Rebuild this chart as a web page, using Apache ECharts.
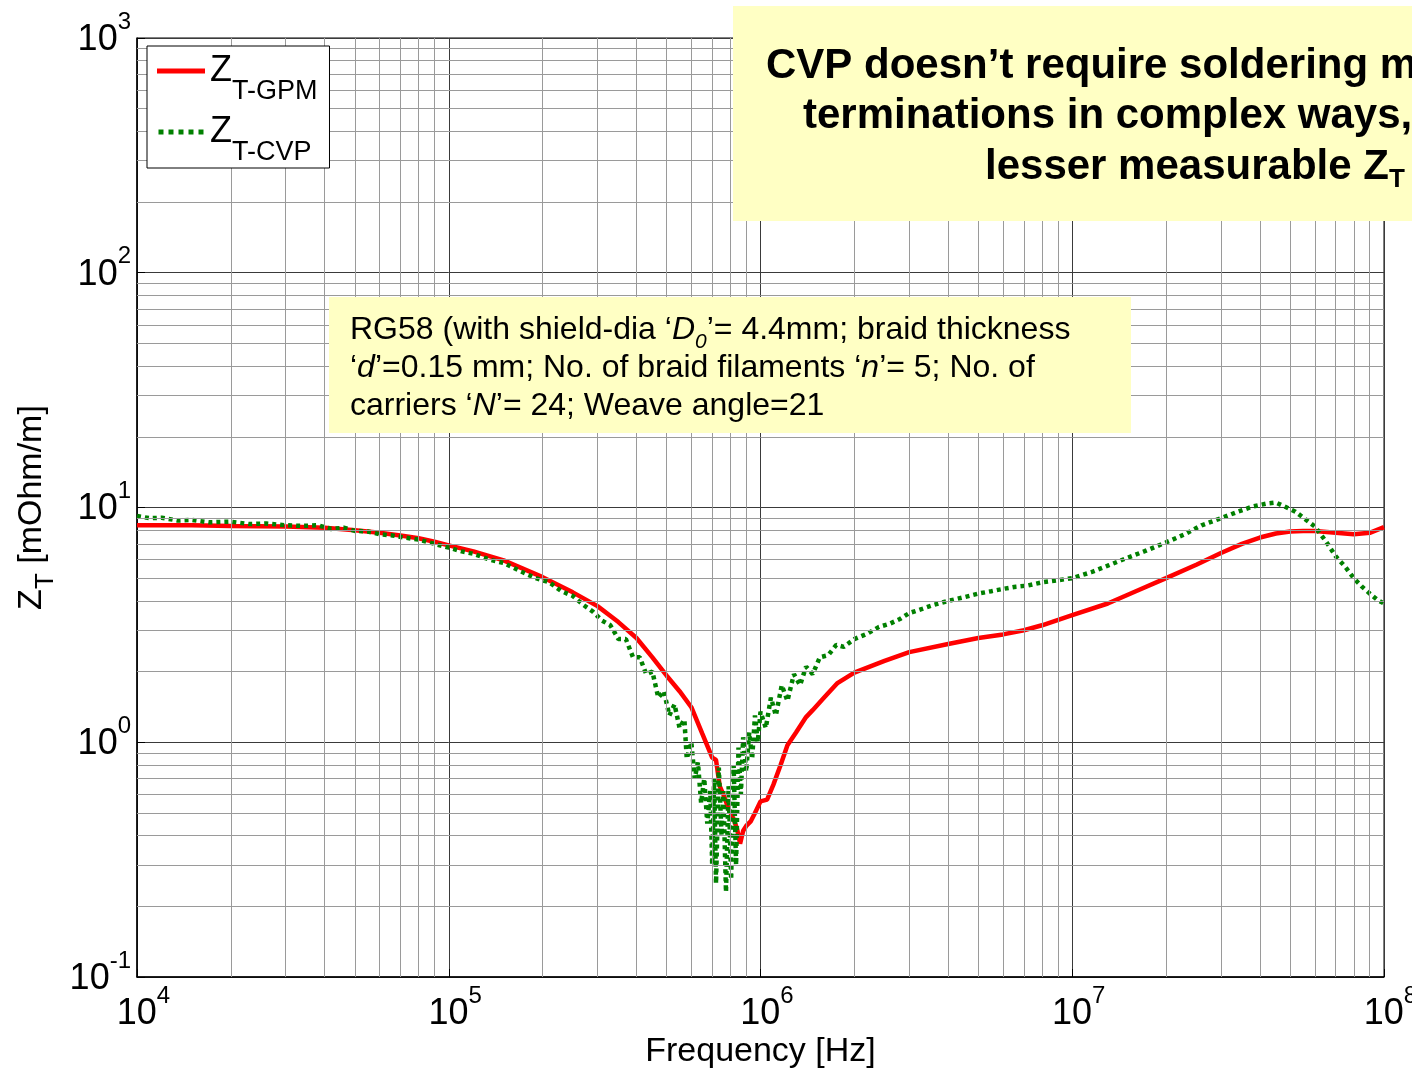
<!DOCTYPE html>
<html><head><meta charset="utf-8">
<script src="https://cdn.jsdelivr.net/npm/echarts@6/dist/echarts.min.js"></script>
<style>html,body{margin:0;padding:0;background:#fff}#c{width:1412px;height:1070px}</style>
</head><body><div id="c"></div>
<script>
// ---- data ----
const freqGPM = [1e4,1.5e4,2e4,3e4,4e4,5e4,6e4,7e4,8e4,9e4,
  1e5,1.2e5,1.5e5,2e5,2.5e5,3e5,3.5e5,4e5,4.5e5,5e5,
  5.5e5,6e5,6.5e5,7e5,7.2e5,7.4e5,7.6e5,7.9e5,8.2e5,8.4e5,
  8.6e5,8.8e5,9.0e5,9.3e5,9.6e5,1e6,1.05e6,1.1e6,1.16e6,1.22e6,
  1.3e6,1.4e6,1.47e6,1.6e6,1.76e6,2e6,2.5e6,3e6,4e6,5e6,
  6e6,7e6,8e6,1e7,1.3e7,1.6e7,2e7,2.5e7,3e7,3.5e7,
  4e7,4.5e7,5e7,5.5e7,6e7,7e7,8e7,9e7,1e8];
const zGPM = [8.4,8.4,8.35,8.3,8.2,8.0,7.8,7.6,7.4,7.15,
  6.9,6.5,5.95,5.05,4.35,3.8,3.25,2.78,2.3,1.92,
  1.65,1.41,1.09,0.86,0.84,0.65,0.6,0.52,0.47,0.43,
  0.37,0.42,0.44,0.46,0.5,0.56,0.57,0.66,0.8,0.97,
  1.1,1.28,1.37,1.55,1.78,1.98,2.22,2.42,2.62,2.78,
  2.88,3.0,3.15,3.48,3.9,4.4,5.0,5.7,6.4,7.0,
  7.45,7.75,7.9,7.95,7.95,7.8,7.7,7.8,8.25];
const freqCVP = [1e4,1.1e4,1.2e4,1.35e4,1.5e4,1.7e4,2e4,2.3e4,2.6e4,3e4,
  3.4e4,3.8e4,4.2e4,4.6e4,5e4,5.5e4,6e4,6.6e4,7.2e4,8e4,
  9e4,1e5,1.1e5,1.2e5,1.35e5,1.5e5,1.7e5,1.9e5,2.1e5,2.3e5,
  2.5e5,2.7e5,2.9e5,3.1e5,3.3e5,3.5e5,3.7e5,3.9e5,4.1e5,4.3e5,
  4.5e5,4.7e5,4.9e5,5.1e5,5.3e5,5.5e5,5.7e5,5.8e5,6.0e5,6.15e5,
  6.3e5,6.45e5,6.6e5,6.75e5,6.9e5,7.0e5,7.1e5,7.2e5,7.35e5,7.5e5,
  7.6e5,7.75e5,7.9e5,8.05e5,8.2e5,8.35e5,8.5e5,8.65e5,8.8e5,9.0e5,
  9.2e5,9.4e5,9.6e5,9.8e5,1.0e6,1.04e6,1.08e6,1.12e6,1.17e6,1.22e6,
  1.28e6,1.34e6,1.4e6,1.47e6,1.55e6,1.65e6,1.75e6,1.85e6,2.0e6,2.2e6,
  2.4e6,2.6e6,2.8e6,3.0e6,3.3e6,3.6e6,4e6,4.5e6,5e6,5.5e6,
  6e6,6.6e6,7.2e6,8e6,9e6,1e7,1.15e7,1.3e7,1.5e7,1.7e7,
  2e7,2.3e7,2.6e7,3e7,3.4e7,3.8e7,4.2e7,4.5e7,4.8e7,5.2e7,
  5.6e7,6e7,6.5e7,7e7,7.5e7,8e7,8.5e7,9e7,9.5e7,1e8];
const zCVP = [9.2,9.0,9.05,8.8,8.85,8.65,8.7,8.5,8.55,8.4,
  8.35,8.4,8.1,8.2,7.95,7.9,7.7,7.6,7.45,7.3,
  7.0,6.75,6.5,6.35,6.0,5.8,5.35,5.0,4.8,4.4,
  4.2,3.85,3.6,3.3,3.15,2.75,2.75,2.3,2.3,1.95,
  2.0,1.55,1.65,1.3,1.45,1.15,1.25,0.85,1.0,0.7,
  0.82,0.55,0.7,0.45,0.62,0.3,0.7,0.25,0.78,0.4,
  0.62,0.23,0.65,0.26,0.8,0.3,0.95,0.6,1.05,0.75,
  1.1,0.85,1.3,1.0,1.35,1.15,1.55,1.3,1.75,1.5,
  1.95,1.75,2.1,1.95,2.3,2.35,2.6,2.55,2.75,2.9,
  3.1,3.2,3.35,3.55,3.7,3.85,4.0,4.15,4.3,4.4,
  4.5,4.6,4.65,4.8,4.9,5.0,5.3,5.65,6.1,6.5,
  7.1,7.7,8.4,9.0,9.6,10.1,10.4,10.5,10.1,9.6,
  8.9,8.3,7.2,6.2,5.6,5.0,4.6,4.3,4.05,3.9];
const seriesNames = ['ZT-GPM', 'ZT-CVP'];
const xTickExps = ['4','5','6','7','8'];
const yTickExps = ['-1','0','1','2','3'];
const xMinExp = 4, yMinExp = -1;
const xName = 'Frequency [Hz]';
const noteLines = [
  '{n|RG58 (with shield-dia ‘}{i|D}{sub|0}{n|’= 4.4mm; braid thickness}',
  '{n|‘}{i|d}{n|’=0.15 mm; No. of braid filaments ‘}{i|n}{n|’= 5; No. of}',
  '{n|carriers ‘}{i|N}{n|’= 24; Weave angle=21}'
];
const claimLines = [
  '{b|CVP doesn’t require soldering m}',
  '{b|terminations in complex ways,}',
  '{b|lesser measurable Z}{bs|T}'
];

// ---- chart ----
const FONT = "'Liberation Sans', Arial, sans-serif";
const tickRich = {
  b: { fontSize: 36, lineHeight: 36, padding: [12, 0, 12, 0], verticalAlign: 'top', fontFamily: FONT, color: '#000' },
  s: { fontSize: 24, lineHeight: 24, verticalAlign: 'top', fontFamily: FONT, color: '#000' }
};
const xTickRich = {
  b: { fontSize: 36, lineHeight: 36, padding: [12, 0, 12, 13], verticalAlign: 'top', fontFamily: FONT, color: '#000' },
  s: { fontSize: 24, lineHeight: 24, verticalAlign: 'top', fontFamily: FONT, color: '#000' }
};
function expIndex(v, minExp) { return Math.round(Math.log10(v)) - minExp; }

const minorX = [], minorY = [];
for (let e = 4; e < 8; e++) for (let m = 2; m <= 9; m++) minorX.push({ xAxis: m * Math.pow(10, e) });
for (let e = -1; e < 3; e++) for (let m = 2; m <= 9; m++) minorY.push({ yAxis: +(m * Math.pow(10, e)).toPrecision(3) });

const solidIcon = 'path://M0,0L48,0L48,5L0,5Z';
let dotIcon = 'path://';
for (let k = 0; k < 5; k++) dotIcon += 'M' + (k * 10) + ',0h5v5h-5Z';

const chart = echarts.init(document.getElementById('c'), null, { renderer: 'canvas' });
chart.setOption({
  animation: false,
  backgroundColor: '#fff',
  grid: { left: 137, top: 38, right: 28, bottom: 93, show: true, borderColor: '#000', borderWidth: 1,
    backgroundColor: 'transparent', containLabel: false, outerBoundsMode: 'none' },
  xAxis: {
    type: 'log', logBase: 10, min: 1e4, max: 1e8, splitNumber: 4,
    name: xName, nameLocation: 'middle', nameGap: 58, nameMoveOverlap: false,
    nameTextStyle: { fontSize: 34, fontFamily: FONT, color: '#000' },
    axisLine: { lineStyle: { color: '#000', width: 1.5 } },
    axisTick: { inside: true, length: 8, lineStyle: { color: '#000' } },
    axisLabel: { margin: 7, formatter: v => '{b|10}{s|' + xTickExps[expIndex(v, xMinExp)] + '}', rich: xTickRich },
    splitLine: { show: true, lineStyle: { color: '#3a3a3a', width: 1 } }
  },
  yAxis: {
    type: 'log', logBase: 10, min: 0.1, max: 1000, splitNumber: 4,
    name: '{z|Z}{s|T}{z| [mOhm/m]}', nameLocation: 'middle', nameGap: 88, nameRotate: 90, nameMoveOverlap: false,
    nameTextStyle: {
      fontFamily: FONT, color: '#000',
      rich: {
        z: { fontSize: 34, lineHeight: 34, verticalAlign: 'top', fontFamily: FONT, color: '#000' },
        s: { fontSize: 26, lineHeight: 26, padding: [18, 0, 0, 0], verticalAlign: 'top', fontFamily: FONT, color: '#000' }
      }
    },
    axisLine: { lineStyle: { color: '#000', width: 1.5 } },
    axisTick: { inside: true, length: 8, lineStyle: { color: '#000' } },
    axisLabel: { margin: 6, padding: [0, 0, 20, 0], formatter: v => '{b|10}{s|' + yTickExps[expIndex(v, yMinExp)] + '}', rich: tickRich },
    splitLine: { show: true, lineStyle: { color: '#3a3a3a', width: 1 } }
  },
  legend: {
    orient: 'vertical', left: 147, top: 46, z: 50,
    padding: [7, 12, 2, 10], itemGap: 9, itemWidth: 48, itemHeight: 5,
    backgroundColor: '#fff', borderColor: '#000', borderWidth: 1, borderRadius: 0,
    data: [{ name: seriesNames[0], icon: solidIcon }, { name: seriesNames[1], icon: dotIcon }],
    formatter: name => '{z|Z}{s|' + name.slice(1) + '}',
    textStyle: {
      fontFamily: FONT, color: '#000', padding: [0, 0, 0, 0],
      rich: {
        z: { fontSize: 36, lineHeight: 36, verticalAlign: 'top', fontFamily: FONT, color: '#000' },
        s: { fontSize: 27, lineHeight: 28, padding: [25, 0, 0, 0], verticalAlign: 'top', fontFamily: FONT, color: '#000' }
      }
    }
  },
  series: [
    {
      name: 'minor-grid', type: 'line', data: [], z: 1, silent: true,
      markLine: {
        silent: true, symbol: 'none', label: { show: false },
        lineStyle: { color: '#9a9a9a', width: 1, type: 'solid' },
        emphasis: { disabled: true },
        data: minorX.concat(minorY)
      }
    },
    {
      name: seriesNames[0], type: 'line', symbol: 'none', z: 3,
      data: freqGPM.map((f, i) => [f, zGPM[i]]),
      lineStyle: { color: '#ff0000', width: 4.5 },
      itemStyle: { color: '#ff0000' }
    },
    {
      name: seriesNames[1], type: 'line', symbol: 'none', z: 4,
      data: freqCVP.map((f, i) => [f, zCVP[i]]),
      lineStyle: { color: '#008000', width: 4.5, type: [4, 4], cap: 'butt' },
      itemStyle: { color: '#008000' }
    }
  ],
  graphic: [
    { type: 'rect', z: 100, shape: { x: 329, y: 297, width: 802, height: 136 }, style: { fill: '#FFFFC4' } },
    ...noteLines.map((t, i) => ({
      type: 'text', z: 101, x: 350, y: 314 + i * 38,
      style: {
        text: t, align: 'left', verticalAlign: 'top', fill: '#000',
        rich: {
          n: { fontSize: 32, lineHeight: 32, verticalAlign: 'top', fontFamily: FONT, fill: '#000' },
          i: { fontSize: 32, lineHeight: 32, verticalAlign: 'top', fontStyle: 'italic', fontFamily: FONT, fill: '#000' },
          sub: { fontSize: 21, lineHeight: 21, padding: [18, 0, 0, 0], verticalAlign: 'top', fontStyle: 'italic', fontFamily: FONT, fill: '#000' }
        }
      }
    })),
    { type: 'rect', z: 100, shape: { x: 733, y: 6, width: 700, height: 215 }, style: { fill: '#FFFFC4' } },
    ...claimLines.map((t, i) => ({
      type: 'text', z: 101, x: [766, 803, 985][i], y: [45, 95, 146][i],
      style: {
        text: t, align: 'left', verticalAlign: 'top', fill: '#000',
        rich: {
          b: { fontSize: 42, lineHeight: 42, verticalAlign: 'top', fontWeight: 'bold', fontFamily: FONT, fill: '#000' },
          bs: { fontSize: 26, lineHeight: 26, padding: [21, 0, 0, 0], verticalAlign: 'top', fontWeight: 'bold', fontFamily: FONT, fill: '#000' }
        }
      }
    }))
  ]
});
</script>
</body></html>
